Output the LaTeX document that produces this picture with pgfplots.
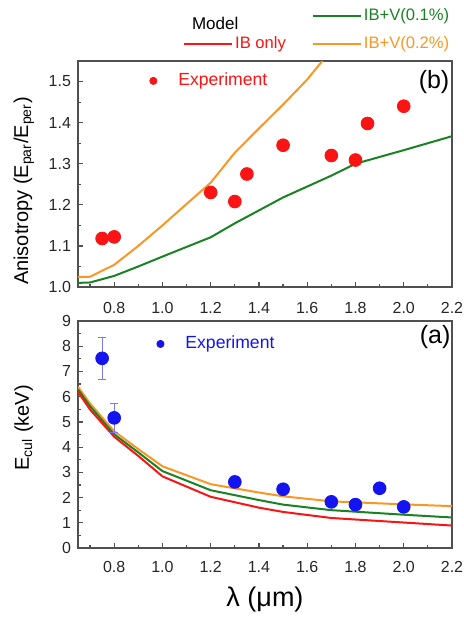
\documentclass[border=0pt]{standalone}
\usepackage{fontspec}
\setmainfont{Liberation Sans}
\usepackage{pgfplots}
\pgfplotsset{compat=1.18}
\definecolor{cred}{RGB}{250,20,20}
\definecolor{cgreen}{RGB}{25,130,35}
\definecolor{corange}{RGB}{250,150,35}
\definecolor{cblue}{RGB}{20,20,240}
\definecolor{cebar}{RGB}{120,120,240}
\definecolor{caxis}{RGB}{80,80,80}
\pgfplotsset{
 /pgf/number format/assume math mode=true,
 base/.style={
  scale only axis, width=187pt,
  xmin=0.65, xmax=2.2,
  axis line style={caxis, line width=0.7pt},
  tick style={caxis, line width=0.6pt},
  major tick length=2.5pt, minor tick length=1.5pt,
  tick align=inside, tick pos=left,
  xtick={0.8,1.0,1.2,1.4,1.6,1.8,2.0,2.2},
  minor xtick={0.7,0.9,1.1,1.3,1.5,1.7,1.9,2.1},
  xticklabel style={/pgf/number format/fixed, /pgf/number format/fixed zerofill, /pgf/number format/precision=1},
  ticklabel style={font=\fontsize{8}{9.5}\selectfont, text=black!85},
  every axis x label/.style={at={(rel axis cs:0.5,-0.229)}, anchor=center},
  label style={font=\fontsize{11.5}{13}\selectfont},
 },
 modelline/.style={line width=1pt},
 shortline/.style={legend image code/.code={\draw[##1] (0pt,0pt) -- (24pt,0pt);}},
 explegend/.style={legend image code/.code={\path[draw=none,fill=none] (0pt,0pt) (16pt,0pt); \draw[##1] plot coordinates {(5.5pt,0pt)};}},
}
\begin{document}
\begin{tikzpicture}
\useasboundingbox (0,0) rectangle (232pt,309pt);
% ---------- top panel (b) ----------
\begin{axis}[base, at={(39pt,165.5pt)}, anchor=south west, height=113pt,
  ymin=1.0, ymax=1.55,
  ytick={1.0,1.1,1.2,1.3,1.4,1.5},
  minor ytick={1.05,1.15,1.25,1.35,1.45,1.55},
  yticklabel style={/pgf/number format/fixed, /pgf/number format/fixed zerofill, /pgf/number format/precision=1},
  xticklabel style={yshift=-4pt},
  every axis y label/.style={at={(rel axis cs:-0.145,0.425)}, rotate=90, anchor=center},
  ylabel={Anisotropy (E\textsubscript{par}/E\textsubscript{per})},
  legend style={at={(0.171,0.912)}, anchor=west, draw=none, fill=none, inner sep=0pt,
    font=\fontsize{8.8}{10}\selectfont, text=cred},
  ]
\addlegendimage{only marks, mark=*, cred, mark size=1.8pt, explegend}
\addlegendentry{Experiment}
\addplot[cgreen, modelline, forget plot] coordinates {
(0.65,1.010) (0.70,1.011) (0.8,1.027) (0.9,1.050) (1.0,1.074) (1.2,1.121)
(1.3,1.155) (1.5,1.218) (1.7,1.271) (1.8,1.300) (2.0,1.333) (2.2,1.367)};
\addplot[corange, modelline, forget plot] coordinates {
(0.65,1.024) (0.70,1.025) (0.8,1.054) (0.9,1.100) (1.0,1.150) (1.1,1.202)
(1.2,1.254) (1.3,1.327) (1.4,1.386) (1.5,1.444) (1.6,1.505) (1.7,1.577)};
\addplot[only marks, mark=*, cred, mark size=3.2pt, forget plot] coordinates {
(0.75,1.118) (0.80,1.122) (1.2,1.230) (1.3,1.208) (1.35,1.275) (1.5,1.345)
(1.7,1.320) (1.8,1.309) (1.85,1.398) (2.0,1.440)};
\node[font=\fontsize{12.5}{14}\selectfont] at (rel axis cs:0.952,0.907) {(b)};
\end{axis}
% ---------- model legend ----------
\begin{axis}[hide axis, clip=false, scale only axis, width=187pt, height=113pt,
  at={(39pt,165.5pt)}, anchor=south west, xmin=0, xmax=1, ymin=0, ymax=1,
  legend columns=2, shortline,
  legend style={at={(0.264,1.261)}, anchor=north west, draw=none, fill=none,
    font=\fontsize{8.3}{10}\selectfont, row sep=4.5pt, nodes={inner sep=1pt},
    /tikz/every even column/.append style={column sep=12pt}},
  ]
\addlegendimage{empty legend}
\addlegendentry{}
\addlegendimage{cgreen, modelline}
\addlegendentry{\textcolor{cgreen}{IB+V(0.1\%)}}
\addlegendimage{cred, modelline}
\addlegendentry{\textcolor{cred}{IB only}}
\addlegendimage{corange, modelline}
\addlegendentry{\textcolor{corange}{IB+V(0.2\%)}}
\node[anchor=west, font=\fontsize{8.5}{10}\selectfont] at (rel axis cs:0.286,1.168) {Model};
\end{axis}
% ---------- bottom panel (a) ----------
\begin{axis}[base, at={(39pt,35pt)}, anchor=south west, height=113.5pt,
  ymin=0, ymax=9,
  ytick={0,1,2,3,4,5,6,7,8,9},
  minor ytick={0.5,1.5,2.5,3.5,4.5,5.5,6.5,7.5,8.5},
  xticklabel style={yshift=-3pt},
  every axis y label/.style={at={(rel axis cs:-0.145,0.529)}, rotate=90, anchor=center},
  ylabel={E\textsubscript{cul} (keV)},
  xlabel={λ (μm)},
  xlabel style={font=\fontsize{13.5}{15}\selectfont},
  legend style={at={(0.190,0.899)}, anchor=west, draw=none, fill=none, inner sep=0pt,
    font=\fontsize{8.8}{10}\selectfont, text=cblue},
  ]
\addlegendimage{only marks, mark=*, cblue, mark size=1.8pt, explegend}
\addlegendentry{Experiment}
\addplot[corange, modelline, forget plot] coordinates {
(0.65,6.39) (0.7,5.73) (0.8,4.63) (0.9,3.92) (1.0,3.24) (1.2,2.53) (1.4,2.20)
(1.5,2.05) (1.7,1.85) (2.0,1.73) (2.2,1.66)};
\addplot[cgreen, modelline, forget plot] coordinates {
(0.65,6.29) (0.7,5.62) (0.8,4.51) (0.9,3.79) (1.0,3.05) (1.2,2.29) (1.4,1.90)
(1.5,1.72) (1.7,1.50) (2.0,1.32) (2.2,1.21)};
\addplot[cred, modelline, forget plot] coordinates {
(0.65,6.19) (0.7,5.49) (0.8,4.41) (0.9,3.65) (1.0,2.84) (1.2,2.03) (1.4,1.60)
(1.5,1.43) (1.7,1.19) (2.0,1.01) (2.2,0.89)};
\addplot[only marks, mark=*, cblue, mark size=3.2pt, forget plot,
  error bars/.cd, y dir=both, y explicit,
  error bar style={cebar, line width=0.4pt},
  error mark options={cebar, line width=0.4pt, mark size=2pt, rotate=90}]
  coordinates {
(0.75,7.52) +- (0,0.82)
(0.80,5.16) +- (0,0.57)
(1.3,2.62) +- (0,0.20)
(1.5,2.33) +- (0,0.10)
(1.7,1.83) +- (0,0.10)
(1.8,1.72) +- (0,0.10)
(1.9,2.37) +- (0,0.10)
(2.0,1.63) +- (0,0.10)};
\node[font=\fontsize{12.5}{14}\selectfont] at (rel axis cs:0.955,0.93) {(a)};
\end{axis}
\end{tikzpicture}
\end{document}
